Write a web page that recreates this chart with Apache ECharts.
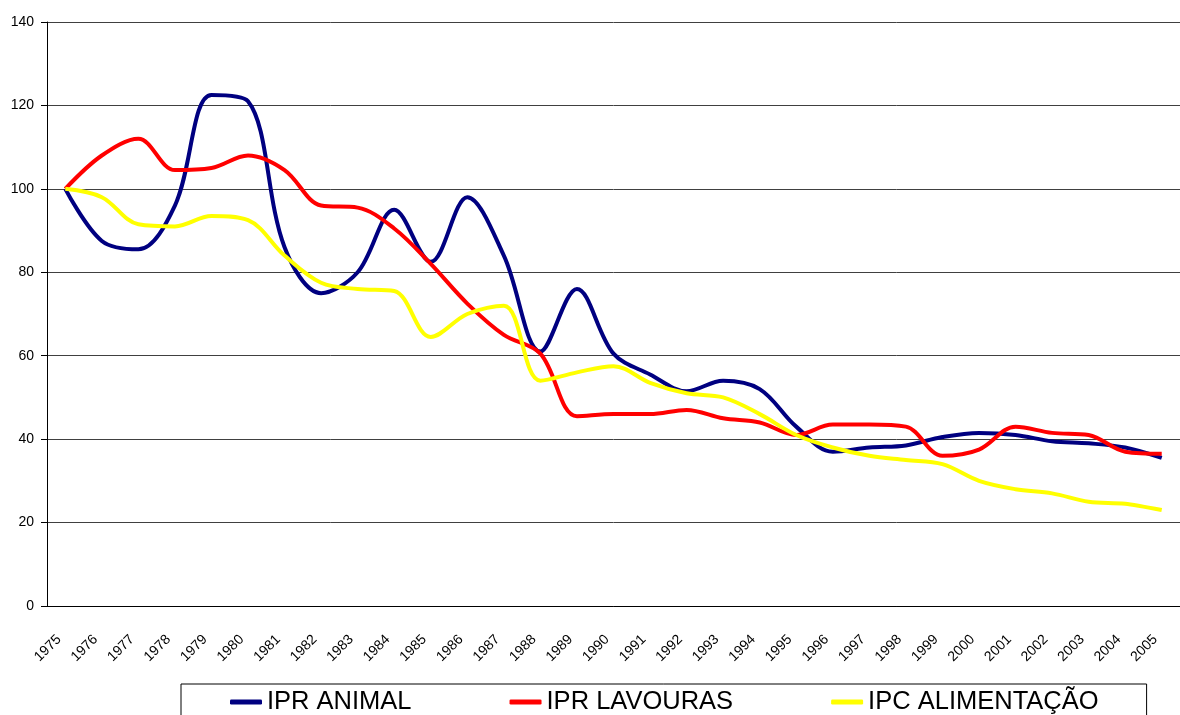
<!DOCTYPE html>
<html>
<head>
<meta charset="utf-8">
<title>IPR / IPC</title>
<script src="https://cdn.jsdelivr.net/npm/echarts@6/dist/echarts.min.js"></script>
<style>
  html, body { margin: 0; padding: 0; background: #fff; }
  #chart { width: 1180px; height: 715px; }
</style>
</head>
<body>
<div id="chart"></div>
<script>
// anos
const anos = ['1975', '1976', '1977', '1978', '1979', '1980', '1981', '1982', '1983', '1984',
  '1985', '1986', '1987', '1988', '1989', '1990', '1991', '1992', '1993', '1994',
  '1995', '1996', '1997', '1998', '1999', '2000', '2001', '2002', '2003', '2004', '2005']

const iprAnimal = [100, 87.5, 85.5, 96, 122.5, 121, 86, 75, 80, 95,
  82.5, 98, 84, 61, 76, 60.5, 55.5, 51.5, 54, 52,
  43, 37, 38, 38.5, 40.5, 41.5, 41, 39.5, 39, 38, 35.5]

const iprLavouras = [100, 108, 112, 104.5, 105, 108, 104.5, 96, 95.5, 90.5,
  82, 72.5, 65, 60.5, 45.5, 46, 46, 47, 45, 44,
  41, 43.5, 43.5, 43, 36, 37.5, 43, 41.5, 41, 37, 36.5]

const ipcAlimentacao = [100, 98, 91.5, 91, 93.5, 92.5, 84, 77.5, 76, 75.5,
  64.5, 70, 72, 54, 56, 57.5, 53.5, 51, 50, 46,
  41, 38, 36, 35, 34, 30, 28, 27, 25, 24.5, 23]

const nomes = ['IPR ANIMAL', 'IPR LAVOURAS', 'IPC ALIMENTAÇÃO']
const cores = ['#000080', '#ff0000', '#ffff00']

const myChart = echarts.init(document.getElementById('chart'))

function linha (nome, dados) {
  return {
    name: nome,
    type: 'line',
    smooth: 0.35,
    showSymbol: false,
    lineStyle: { width: 4 },
    data: dados
  }
}

const option = {
  animation: false,
  color: cores,
  textStyle: { fontFamily: 'Liberation Sans, Arial, sans-serif' },
  grid: { left: 47, top: 22, width: 1145, height: 584, containLabel: false },
  legend: {
    left: 181,
    top: 684,
    data: nomes,
    icon: 'roundRect',
    itemWidth: 32,
    itemHeight: 5,
    itemGap: 98,
    padding: [5, 48, 20, 49],
    borderColor: '#000',
    borderWidth: 1,
    textStyle: {
      fontFamily: 'Liberation Sans, Arial, sans-serif',
      fontSize: 25.5,
      color: '#000'
    }
  },
  xAxis: {
    type: 'category',
    boundaryGap: true,
    data: anos,
    axisLine: { lineStyle: { color: '#000', width: 1 } },
    axisTick: { length: 5, lineStyle: { color: '#000' } },
    axisLabel: {
      interval: 0,
      rotate: 45,
      margin: 25,
      padding: [0, 9, 0, 0],
      fontSize: 14,
      color: '#000'
    }
  },
  yAxis: {
    type: 'value',
    min: 0,
    max: 140,
    interval: 20,
    axisLine: { show: true, lineStyle: { color: '#000', width: 1 } },
    axisTick: { show: true, length: 6, lineStyle: { color: '#000' } },
    axisLabel: { margin: 13, fontSize: 14, color: '#000' },
    splitLine: { lineStyle: { color: '#404040', width: 1 } }
  },
  series: [
    linha(nomes[0], iprAnimal),
    linha(nomes[1], iprLavouras),
    linha(nomes[2], ipcAlimentacao)
  ]
}

myChart.setOption(option)
window.addEventListener('resize', function () {
  myChart.resize()
})
</script>
</body>
</html>
